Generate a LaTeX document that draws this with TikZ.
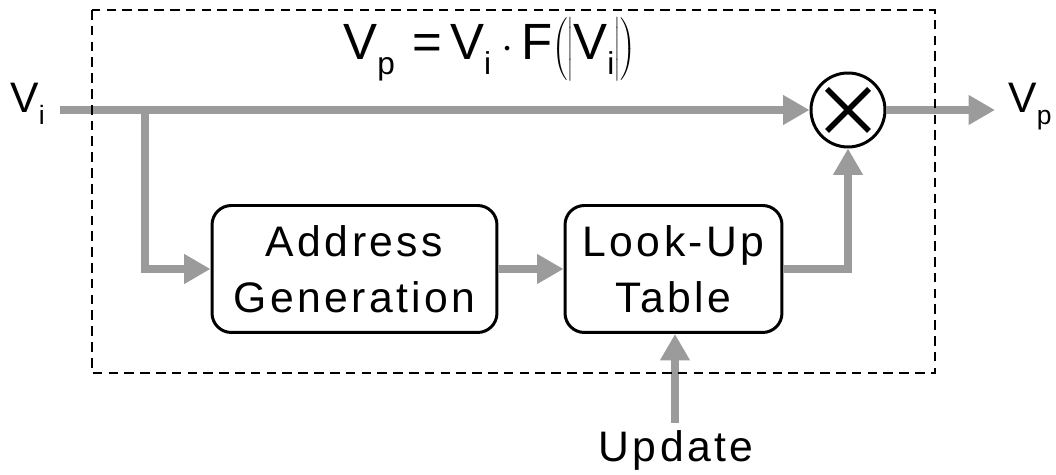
\documentclass[tikz,border=0pt]{standalone}
\usepackage{fontspec}
\usepackage{graphicx}
\setmainfont{Liberation Sans}[LetterSpace=8]
\newfontfamily\eqfont{Liberation Sans}
\usetikzlibrary{arrows.meta}
\definecolor{siggray}{RGB}{155,155,155}
\newcommand\lowtxt[1]{\raisebox{-0.28em}{\scalebox{0.62}{#1}}}
\tikzset{
	sig/.style={draw=siggray, line width=4.8pt, -{Triangle[length=15pt,width=16pt]}},
	block/.style={draw, line width=1.7pt, rounded corners=11pt, align=center, minimum height=2.54cm},
	frame/.style={draw, line width=1.3pt, dash pattern=on 5.5pt off 3.5pt}
}
\begin{document}
\begin{tikzpicture}[x=0.02cm, y=-0.02cm, font=\fontsize{24.3}{31.7}\selectfont]
		\useasboundingbox (0,0) rectangle (1056,475);
		
		% Blocks
		\node[block, minimum width=5.7cm] (addr) at (354.5,269) {Address\\Generation};
		\node[block, minimum width=4.34cm] (lut) at (673.5,269) {Look-Up\\Table};
		\node[draw, circle, line width=1.7pt, minimum size=1.48cm] (mul) at (848,110) {};
		\draw[line width=3.2pt] (mul) +(-21,-21) -- +(21,21);
		\draw[line width=3.2pt] (mul) +(-21,21) -- +(21,-21);
		
		% Labels
		\node[anchor=base west, inner sep=0pt] (vi) at (10,113) {V\lowtxt{i}};
		\node[anchor=base west, inner sep=0pt] (vp) at (1008,113) {V\lowtxt{p}};
		\node[anchor=base, inner sep=0pt] (upd) at (676,462) {Update};
		\node[anchor=base west, inner sep=0pt, font=\eqfont\fontsize{29}{34}\selectfont] (eq) at (343,60)
			{V\lowtxt{p}\hspace{0.35em}=\hspace{0.15em}V\lowtxt{i}\hspace{0.2em}$\cdot$\hspace{0.15em}F$\left(\middle|\mbox{V\lowtxt{i}\rule[-0.3em]{0pt}{1.2em}}\middle|\right)$};
		
		% Signal ends
		\coordinate (vin) at (60,110);
		\coordinate (split) at (145,110);
		\coordinate (vout) at (995,110);
		\coordinate (updin) at (675,423);
		
		% Draw signals
		\draw[sig] (vin) -- (mul);
		\draw[sig] (split) |- (addr);
		\draw[sig] (addr) -- (lut);
		\draw[sig] (lut) -| (mul);
		\draw[sig] (mul) -- (vout);
		\draw[sig] (updin) -- (updin |- lut.south);
		
		% Dashed frame
		\draw[frame] (92,10) rectangle (935,373);
	\end{tikzpicture}
\end{document}
